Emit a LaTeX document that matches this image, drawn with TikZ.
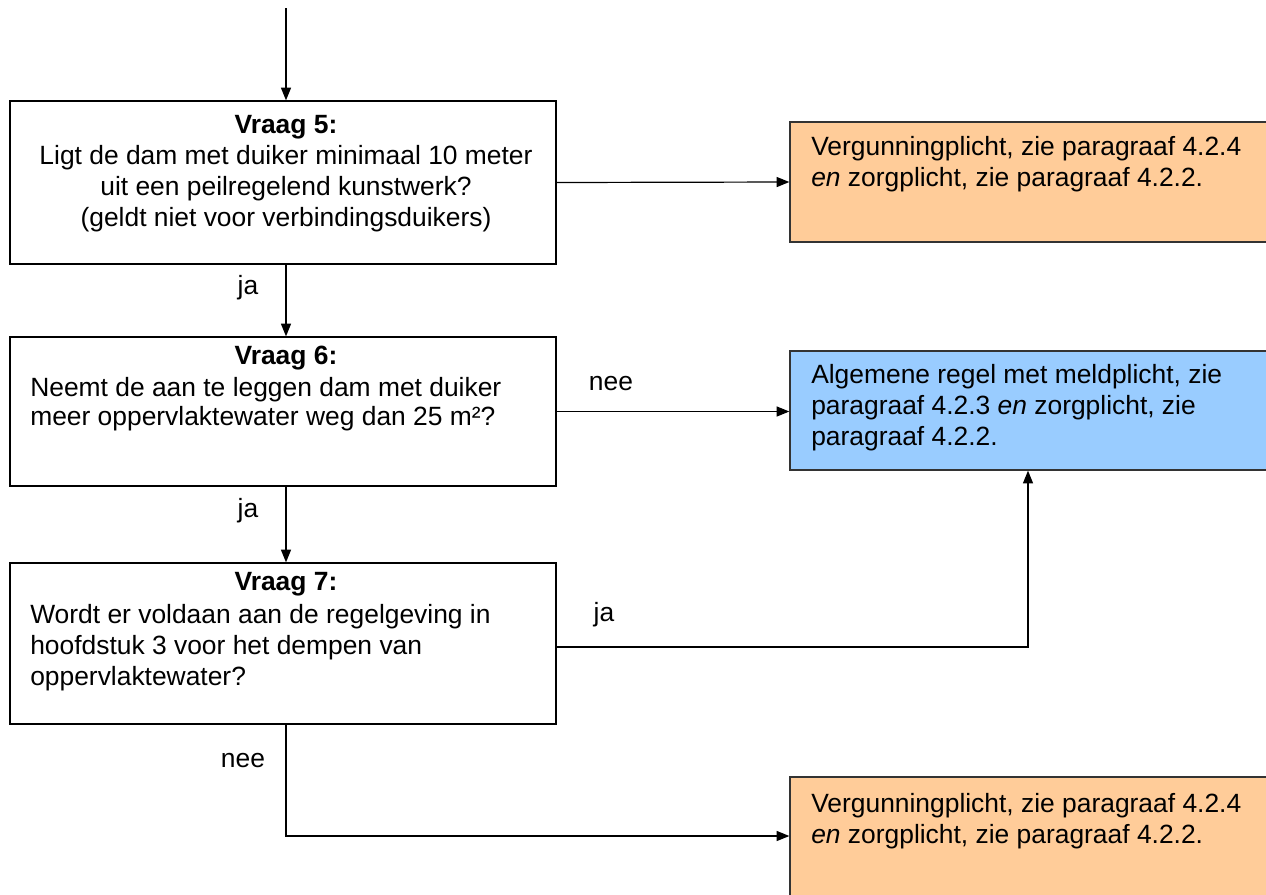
\documentclass[tikz,border=0pt]{standalone}
\usepackage{fontspec}
\setmainfont{Liberation Sans}
\usetikzlibrary{arrows.meta,fit}
\definecolor{orangebox}{HTML}{FFCC99}
\definecolor{bluebox}{HTML}{99CCFF}
\begin{document}
\begin{tikzpicture}[x=0.75pt,y=-0.75pt,
  every node/.style={font=\fontsize{19.8}{23.25}\selectfont},
  qbox/.style={draw=black,line width=1pt,inner sep=0pt,fill=white},
  obox/.style={draw=black!80,line width=1pt,inner sep=0pt,fill=orangebox},
  bbox/.style={draw=black!80,line width=1pt,inner sep=0pt,fill=bluebox},
  txt/.style={inner sep=0pt,anchor=base west},
  ctxt/.style={inner sep=0pt,anchor=base},
  conn/.style={line width=0.9pt,-{Triangle[length=9.5pt,width=7.5pt]}},
  line/.style={line width=0.9pt}]
\useasboundingbox (0,0) rectangle (1266,894);
% boxes
\node[qbox,fit={(10,101) (556,264)}] (b5) {};
\node[qbox,fit={(10,337) (556,486)}] (b6) {};
\node[qbox,fit={(10,563) (556,724)}] (b7) {};
\node[obox,fit={(790,122) (1275,242)}] (o1) {};
\node[bbox,fit={(790,351) (1275,470)}] (bl) {};
\node[obox,fit={(790,777) (1275,905)}] (o2) {};
% texts box 5
\node[ctxt] (t5a) at (286,133) {\textbf{Vraag 5:}};
\node[ctxt] (t5b) at (286,164) {Ligt de dam met duiker minimaal 10 meter};
\node[ctxt] (t5c) at (286,195) {uit een peilregelend kunstwerk?};
\node[ctxt] (t5d) at (286,226) {(geldt niet voor verbindingsduikers)};
% box 6
\node[ctxt] (t6a) at (286,364) {\textbf{Vraag 6:}};
\node[txt] (t6b) at (30,396) {Neemt de aan te leggen dam met duiker};
\node[txt] (t6c) at (30,425) {meer oppervlaktewater weg dan 25 m²?};
% box 7
\node[ctxt] (t7a) at (286,590) {\textbf{Vraag 7:}};
\node[txt] (t7b) at (30,623) {Wordt er voldaan aan de regelgeving in};
\node[txt] (t7c) at (30,654) {hoofdstuk 3 voor het dempen van};
\node[txt] (t7d) at (30,685) {oppervlaktewater?};
% right boxes
\node[txt] (o1a) at (811,155) {Vergunningplicht, zie paragraaf 4.2.4};
\node[txt] (o1b) at (811,186) {\textit{en} zorgplicht, zie paragraaf 4.2.2.};
\node[txt] (bla) at (811,383) {Algemene regel met meldplicht, zie};
\node[txt] (blb) at (811,414) {paragraaf 4.2.3 \textit{en} zorgplicht, zie};
\node[txt] (blc) at (811,445) {paragraaf 4.2.2.};
\node[txt] (o2a) at (811,812) {Vergunningplicht, zie paragraaf 4.2.4};
\node[txt] (o2b) at (811,843) {\textit{en} zorgplicht, zie paragraaf 4.2.2.};
% labels
\node[ctxt] (l1) at (248,294) {ja};
\node[ctxt] (l2) at (248,517) {ja};
\node[ctxt] (l3) at (611,390) {nee};
\node[ctxt] (l4) at (604,621) {ja};
\node[ctxt] (l5) at (243,767) {nee};
% connectors
\coordinate (start) at (286,8);
\coordinate (j1) at (1028,647);
\coordinate (j2) at (286,836);
\draw[conn] (start) -- (start |- b5.north);
\draw[conn] (b5.east) -- (o1.west);
\draw[conn] (286,264) coordinate (s1) -- (s1 |- b6.north);
\draw[conn] (286,486) coordinate (s2) -- (s2 |- b7.north);
\draw[conn] (b6.east) -- (b6.east -| o1.west);
\draw[conn] (b7.east |- j1) -- (j1) -- (j1 |- bl.south);
\draw[conn] (286,724) coordinate (s3) -- (j2) -- (j2 -| o2.west);
\end{tikzpicture}
\end{document}
